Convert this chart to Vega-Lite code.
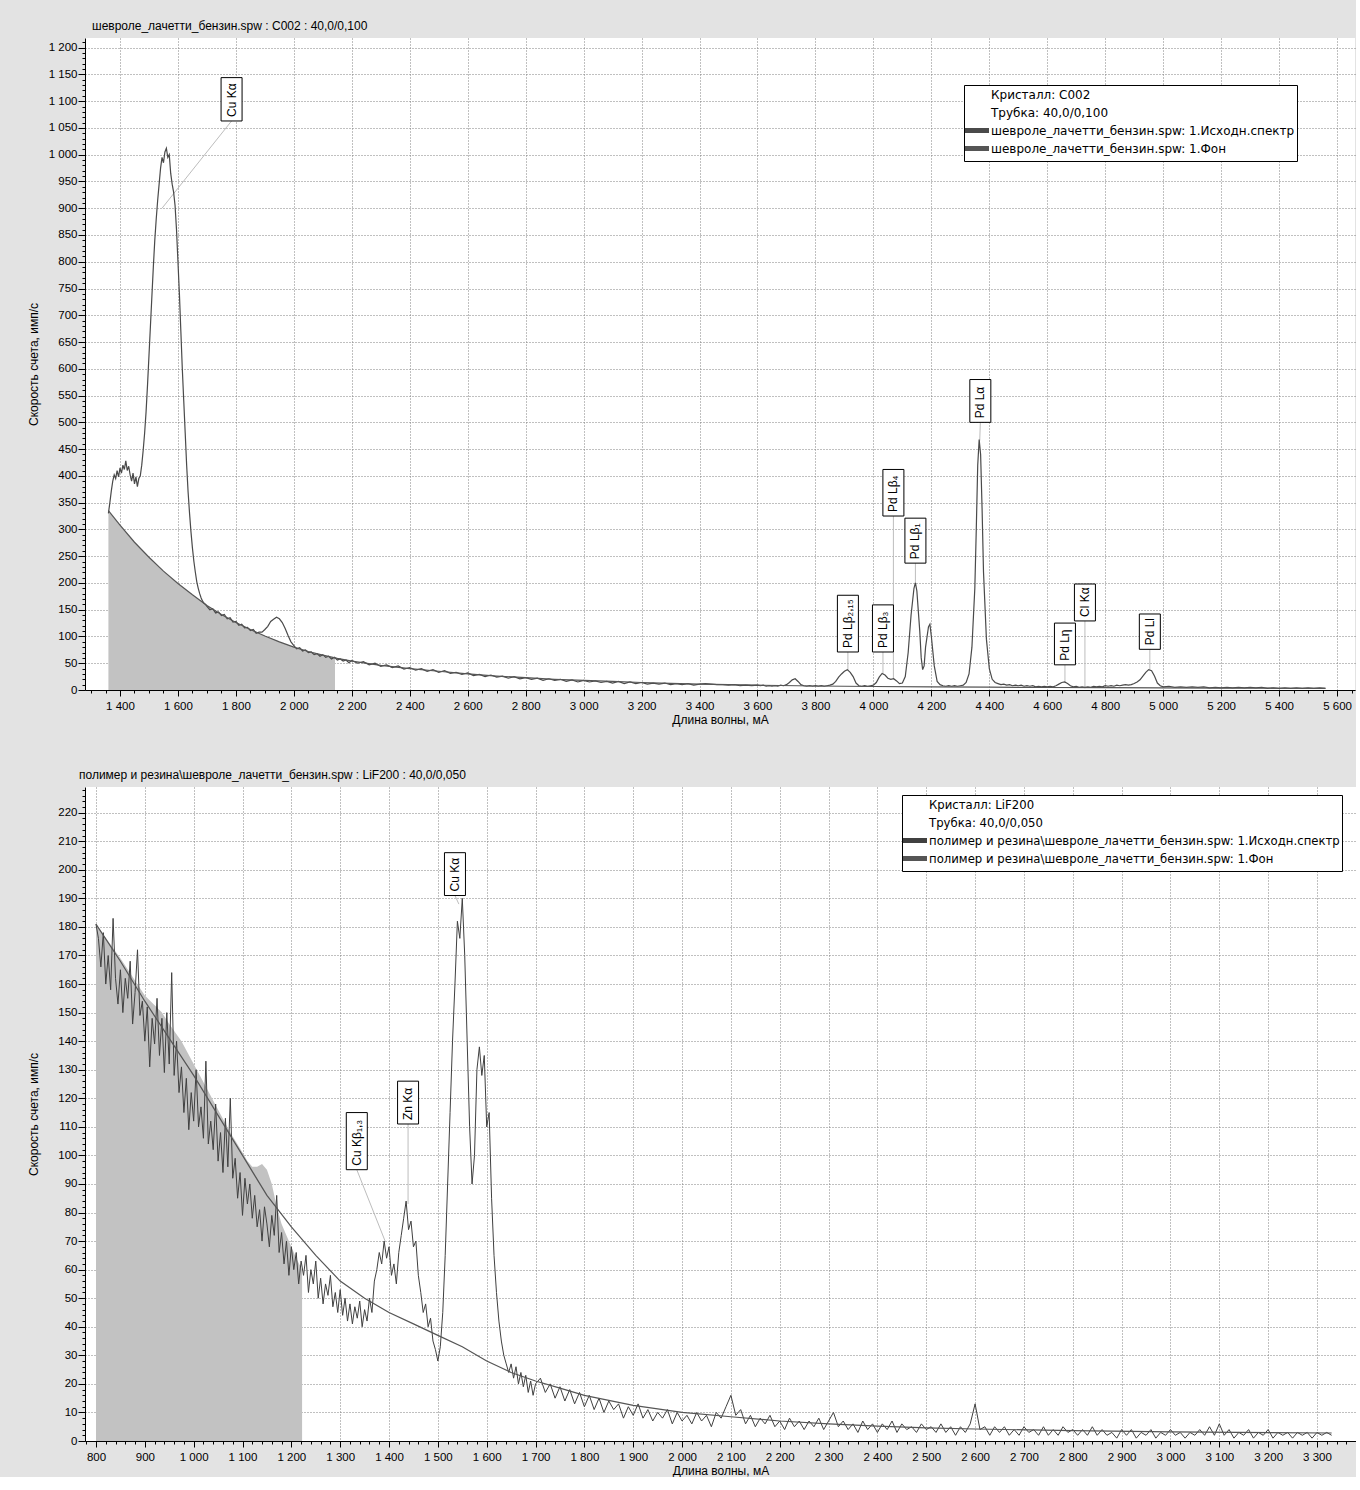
{
"$schema": "https://vega.github.io/schema/vega-lite/v6.json",
"padding": {"left": 27, "top": 20, "right": 0, "bottom": 0},
"background": "#e3e3e3",
"columns": 1,
"align": "none",
"spacing": 42,
"resolve": {"scale": {"color": "independent"}, "legend": {"color": "independent"}},
"datasets": {
"top_spec": [
{"w":1360,"c":330},{"w":1365,"c":350},{"w":1370,"c":372},{"w":1375,"c":390},{"w":1380,"c":402},{"w":1385,"c":395},{"w":1390,"c":410},{"w":1395,"c":398},{"w":1400,"c":415},{"w":1405,"c":405},{"w":1410,"c":420},{"w":1415,"c":412},{"w":1420,"c":428},{"w":1425,"c":410},{"w":1430,"c":418},{"w":1435,"c":402},{"w":1440,"c":390},{"w":1445,"c":405},{"w":1450,"c":385},{"w":1455,"c":398},{"w":1460,"c":380},{"w":1465,"c":395},{"w":1470,"c":400},{"w":1475,"c":420},{"w":1480,"c":448},{"w":1485,"c":480},{"w":1490,"c":520},{"w":1495,"c":570},{"w":1500,"c":625},{"w":1505,"c":680},{"w":1510,"c":735},{"w":1515,"c":790},{"w":1520,"c":840},{"w":1525,"c":880},{"w":1530,"c":915},{"w":1535,"c":945},{"w":1540,"c":975},{"w":1545,"c":995},{"w":1550,"c":985},{"w":1555,"c":1005},{"w":1560,"c":1012},{"w":1565,"c":995},{"w":1570,"c":1000},{"w":1575,"c":965},{"w":1580,"c":945},{"w":1585,"c":930},{"w":1590,"c":905},{"w":1595,"c":860},{"w":1600,"c":800},{"w":1605,"c":740},{"w":1610,"c":670},{"w":1615,"c":600},{"w":1620,"c":540},{"w":1625,"c":480},{"w":1630,"c":420},{"w":1635,"c":370},{"w":1640,"c":330},{"w":1645,"c":295},{"w":1650,"c":265},{"w":1655,"c":240},{"w":1660,"c":220},{"w":1665,"c":202},{"w":1670,"c":190},{"w":1675,"c":180},{"w":1680,"c":172},{"w":1685,"c":166},{"w":1690,"c":162},{"w":1695,"c":160},{"w":1700,"c":156},
{"w":1710,"c":150},{"w":1720,"c":152},{"w":1730,"c":144},{"w":1740,"c":146},{"w":1750,"c":139},{"w":1760,"c":141},{"w":1770,"c":133},{"w":1780,"c":135},{"w":1790,"c":127},{"w":1800,"c":128},{"w":1810,"c":121},{"w":1820,"c":123},{"w":1830,"c":116},{"w":1840,"c":117},{"w":1850,"c":111},{"w":1860,"c":113},{"w":1870,"c":106},{"w":1880,"c":108},{"w":1890,"c":108},{"w":1900,"c":113},{"w":1910,"c":119},{"w":1920,"c":128},{"w":1930,"c":132},{"w":1940,"c":136},{"w":1950,"c":133},{"w":1960,"c":126},{"w":1970,"c":115},{"w":1980,"c":102},{"w":1990,"c":90},{"w":2000,"c":83},{"w":2010,"c":77},{"w":2020,"c":79},{"w":2030,"c":73},{"w":2040,"c":75},{"w":2050,"c":70},{"w":2060,"c":71},{"w":2070,"c":66},{"w":2080,"c":68},{"w":2090,"c":63},{"w":2100,"c":66},{"w":2110,"c":61},{"w":2120,"c":63},{"w":2130,"c":58},{"w":2140,"c":61},{"w":2150,"c":56},{"w":2160,"c":58},{"w":2170,"c":54},{"w":2180,"c":56},{"w":2190,"c":51},{"w":2200,"c":55},
{"w":2220,"c":50},{"w":2240,"c":53},{"w":2260,"c":47},{"w":2280,"c":50},{"w":2300,"c":44},{"w":2320,"c":47},{"w":2340,"c":42},{"w":2360,"c":45},{"w":2380,"c":39},{"w":2400,"c":42},{"w":2420,"c":37},{"w":2440,"c":40},{"w":2460,"c":35},{"w":2480,"c":38},{"w":2500,"c":33},{"w":2520,"c":36},{"w":2540,"c":31},{"w":2560,"c":33},{"w":2580,"c":29},{"w":2600,"c":32},{"w":2620,"c":27},{"w":2640,"c":29},{"w":2660,"c":25},{"w":2680,"c":28},{"w":2700,"c":24},{"w":2720,"c":26},{"w":2740,"c":22},{"w":2760,"c":25},{"w":2780,"c":21},{"w":2800,"c":23},{"w":2820,"c":20},{"w":2840,"c":22},{"w":2860,"c":18},{"w":2880,"c":21},{"w":2900,"c":18},{"w":2920,"c":20},{"w":2940,"c":16},{"w":2960,"c":19},{"w":2980,"c":15},{"w":3000,"c":18},{"w":3020,"c":15},{"w":3040,"c":17},{"w":3060,"c":14},{"w":3080,"c":16},{"w":3100,"c":13},{"w":3120,"c":16},{"w":3140,"c":12},{"w":3160,"c":15},{"w":3180,"c":12},{"w":3200,"c":14},{"w":3220,"c":11},{"w":3240,"c":13},{"w":3260,"c":11},{"w":3280,"c":13},{"w":3300,"c":10},{"w":3320,"c":12},{"w":3340,"c":10},{"w":3360,"c":12},{"w":3380,"c":9},{"w":3400,"c":11},{"w":3420,"c":12},{"w":3440,"c":11},{"w":3460,"c":10},{"w":3480,"c":10},{"w":3500,"c":9},{"w":3520,"c":10},{"w":3540,"c":8},{"w":3560,"c":9},{"w":3580,"c":8},{"w":3600,"c":9},
{"w":3610,"c":8},{"w":3620,"c":9},{"w":3630,"c":7},{"w":3640,"c":8},{"w":3650,"c":7},{"w":3660,"c":8},{"w":3670,"c":7},{"w":3680,"c":9},{"w":3690,"c":8},{"w":3700,"c":10},{"w":3710,"c":14},{"w":3720,"c":19},{"w":3730,"c":21},{"w":3740,"c":16},{"w":3750,"c":10},{"w":3760,"c":8},{"w":3770,"c":7},{"w":3780,"c":8},{"w":3790,"c":7},{"w":3800,"c":8},{"w":3810,"c":7},{"w":3820,"c":8},{"w":3830,"c":7},{"w":3840,"c":8},{"w":3850,"c":9},{"w":3860,"c":11},{"w":3870,"c":16},{"w":3880,"c":24},{"w":3890,"c":30},{"w":3900,"c":35},{"w":3910,"c":38},{"w":3920,"c":33},{"w":3930,"c":25},{"w":3940,"c":13},{"w":3950,"c":8},{"w":3960,"c":7},{"w":3970,"c":8},{"w":3980,"c":7},{"w":3990,"c":8},{"w":4000,"c":9},{"w":4010,"c":14},{"w":4020,"c":24},{"w":4030,"c":31},{"w":4040,"c":28},{"w":4050,"c":22},{"w":4060,"c":20},{"w":4070,"c":21},{"w":4080,"c":17},{"w":4090,"c":12},{"w":4100,"c":13},{"w":4110,"c":25},{"w":4120,"c":70},{"w":4130,"c":140},{"w":4140,"c":190},{"w":4145,"c":200},{"w":4150,"c":185},{"w":4160,"c":110},{"w":4165,"c":60},{"w":4170,"c":38},{"w":4175,"c":45},{"w":4180,"c":80},{"w":4190,"c":118},{"w":4195,"c":123},{"w":4200,"c":100},{"w":4210,"c":45},{"w":4220,"c":16},{"w":4230,"c":10},{"w":4240,"c":8},{"w":4250,"c":7},{"w":4260,"c":8},{"w":4270,"c":7},{"w":4280,"c":8},{"w":4290,"c":7},{"w":4300,"c":8},{"w":4310,"c":9},{"w":4320,"c":14},{"w":4330,"c":30},{"w":4340,"c":80},{"w":4350,"c":190},{"w":4355,"c":300},{"w":4360,"c":420},{"w":4365,"c":468},{"w":4370,"c":440},{"w":4375,"c":340},{"w":4380,"c":220},{"w":4390,"c":95},{"w":4400,"c":40},{"w":4410,"c":20},{"w":4420,"c":14},{"w":4430,"c":12},{"w":4440,"c":10},{"w":4450,"c":11},{"w":4460,"c":9},{"w":4470,"c":10},{"w":4480,"c":8},{"w":4490,"c":9},{"w":4500,"c":8},{"w":4510,"c":9},{"w":4520,"c":7},{"w":4530,"c":8},{"w":4540,"c":7},{"w":4550,"c":8},{"w":4560,"c":6},{"w":4570,"c":7},{"w":4580,"c":6},{"w":4590,"c":7},{"w":4600,"c":6},{"w":4610,"c":7},{"w":4620,"c":6},{"w":4630,"c":8},{"w":4640,"c":11},{"w":4650,"c":14},{"w":4660,"c":15},{"w":4670,"c":12},{"w":4680,"c":8},{"w":4690,"c":6},{"w":4700,"c":7},{"w":4710,"c":5},{"w":4720,"c":6},{"w":4730,"c":5},{"w":4740,"c":6},{"w":4750,"c":5},{"w":4760,"c":7},{"w":4770,"c":6},{"w":4780,"c":7},{"w":4790,"c":6},{"w":4800,"c":8},{"w":4810,"c":7},{"w":4820,"c":8},{"w":4830,"c":7},{"w":4840,"c":9},{"w":4850,"c":8},{"w":4860,"c":9},{"w":4870,"c":10},{"w":4880,"c":9},{"w":4890,"c":10},{"w":4900,"c":12},{"w":4910,"c":15},{"w":4920,"c":19},{"w":4930,"c":26},{"w":4940,"c":33},{"w":4950,"c":38},{"w":4960,"c":36},{"w":4970,"c":26},{"w":4980,"c":13},{"w":4990,"c":8},{"w":5000,"c":6},{"w":5020,"c":7},{"w":5040,"c":5},{"w":5060,"c":6},{"w":5080,"c":5},{"w":5100,"c":6},{"w":5120,"c":5},{"w":5140,"c":6},{"w":5160,"c":4},{"w":5180,"c":5},{"w":5200,"c":4},{"w":5220,"c":5},{"w":5240,"c":4},{"w":5260,"c":5},{"w":5280,"c":4},{"w":5300,"c":5},{"w":5320,"c":4},{"w":5340,"c":5},{"w":5360,"c":3},{"w":5380,"c":4},{"w":5400,"c":3},{"w":5420,"c":4},{"w":5440,"c":3},{"w":5460,"c":4},{"w":5480,"c":3},{"w":5500,"c":4},{"w":5520,"c":3},{"w":5540,"c":4},{"w":5560,"c":3}
],
"top_bg": [
{"w":1360,"c":335},{"w":1400,"c":308},{"w":1450,"c":276},{"w":1500,"c":248},{"w":1550,"c":222},{"w":1600,"c":199},{"w":1650,"c":178},{"w":1700,"c":158},{"w":1750,"c":141},{"w":1800,"c":126},{"w":1850,"c":113},{"w":1900,"c":101},{"w":1950,"c":90},{"w":2000,"c":80},{"w":2050,"c":72},{"w":2100,"c":65},{"w":2150,"c":59},{"w":2200,"c":54},{"w":2300,"c":46},{"w":2400,"c":40},{"w":2500,"c":35},{"w":2600,"c":30},{"w":2700,"c":26},{"w":2800,"c":23},{"w":2900,"c":20},{"w":3000,"c":18},{"w":3100,"c":16},{"w":3200,"c":14},{"w":3300,"c":12.5},{"w":3400,"c":11},{"w":3500,"c":10},{"w":3600,"c":9},{"w":3800,"c":7.5},{"w":4000,"c":6.5},{"w":4200,"c":5.8},{"w":4400,"c":5.2},{"w":4600,"c":4.7},{"w":4800,"c":4.3},{"w":5000,"c":4},{"w":5200,"c":3.6},{"w":5400,"c":3.3},{"w":5560,"c":3.1}
],
"top_area": [
{"w":1360,"c":335},{"w":1400,"c":308},{"w":1450,"c":276},{"w":1500,"c":248},{"w":1550,"c":222},{"w":1600,"c":199},{"w":1650,"c":178},{"w":1700,"c":158},{"w":1750,"c":141},{"w":1800,"c":126},{"w":1850,"c":113},{"w":1900,"c":101},{"w":1950,"c":90},{"w":2000,"c":80},{"w":2050,"c":72},{"w":2100,"c":65},{"w":2142,"c":60}
],
"top_labels": [
{"t":"Cu Kα","lx":1785,"lb":1063,"lt":1144,"px":1545,"py":900},
{"t":"Pd Lβ₂,₁₅","lx":3912,"lb":71,"lt":177,"px":3912,"py":36},
{"t":"Pd Lβ₃","lx":4033,"lb":71,"lt":159,"px":4033,"py":31},
{"t":"Pd Lβ₄","lx":4069,"lb":325,"lt":412,"px":4069,"py":20},
{"t":"Pd Lβ₁","lx":4145,"lb":237,"lt":321,"px":4145,"py":198},
{"t":"Pd Lα","lx":4369,"lb":500,"lt":580,"px":4367,"py":466},
{"t":"Pd Lη","lx":4661,"lb":47,"lt":125,"px":4661,"py":14},
{"t":"Cl Kα","lx":4730,"lb":129,"lt":198,"px":4730,"py":3},
{"t":"Pd Ll","lx":4954,"lb":76,"lt":142,"px":4954,"py":38}
],
"bot_spec": [
{"w":800,"c":181},{"w":805,"c":176},{"w":810,"c":166},{"w":815,"c":178},{"w":820,"c":160},{"w":825,"c":170},{"w":830,"c":158},{"w":835,"c":183},{"w":840,"c":162},{"w":845,"c":153},{"w":850,"c":165},{"w":855,"c":150},{"w":860,"c":162},{"w":865,"c":155},{"w":870,"c":168},{"w":875,"c":146},{"w":880,"c":157},{"w":885,"c":172},{"w":890,"c":149},{"w":895,"c":154},{"w":900,"c":140},{"w":905,"c":152},{"w":910,"c":131},{"w":915,"c":148},{"w":920,"c":139},{"w":925,"c":155},{"w":930,"c":135},{"w":935,"c":148},{"w":940,"c":129},{"w":945,"c":150},{"w":950,"c":132},{"w":955,"c":164},{"w":960,"c":128},{"w":965,"c":140},{"w":970,"c":122},{"w":975,"c":131},{"w":980,"c":115},{"w":985,"c":127},{"w":990,"c":109},{"w":995,"c":122},{"w":1000,"c":112},{"w":1005,"c":130},{"w":1010,"c":110},{"w":1015,"c":117},{"w":1020,"c":106},{"w":1025,"c":133},{"w":1030,"c":104},{"w":1035,"c":112},{"w":1040,"c":102},{"w":1045,"c":118},{"w":1050,"c":98},{"w":1055,"c":108},{"w":1060,"c":94},{"w":1065,"c":113},{"w":1070,"c":96},{"w":1075,"c":120},{"w":1080,"c":92},{"w":1085,"c":99},{"w":1090,"c":85},{"w":1095,"c":94},{"w":1100,"c":79},{"w":1105,"c":92},{"w":1110,"c":83},{"w":1115,"c":90},{"w":1120,"c":78},{"w":1125,"c":86},{"w":1130,"c":75},{"w":1135,"c":81},{"w":1140,"c":70},{"w":1145,"c":82},{"w":1150,"c":76},{"w":1155,"c":68},{"w":1160,"c":79},{"w":1165,"c":72},{"w":1170,"c":86},{"w":1175,"c":66},{"w":1180,"c":73},{"w":1185,"c":62},{"w":1190,"c":70},{"w":1195,"c":58},{"w":1200,"c":68},{"w":1205,"c":60},{"w":1210,"c":66},{"w":1215,"c":55},{"w":1220,"c":63},{"w":1225,"c":58},{"w":1230,"c":65},{"w":1235,"c":52},{"w":1240,"c":60},{"w":1245,"c":55},{"w":1250,"c":63},{"w":1255,"c":50},{"w":1260,"c":57},{"w":1265,"c":48},{"w":1270,"c":55},{"w":1275,"c":51},{"w":1280,"c":58},{"w":1285,"c":47},{"w":1290,"c":52},{"w":1295,"c":45},{"w":1300,"c":53},{"w":1305,"c":44},{"w":1310,"c":50},{"w":1315,"c":42},{"w":1320,"c":48},{"w":1325,"c":41},{"w":1330,"c":47},{"w":1335,"c":43},{"w":1340,"c":49},{"w":1345,"c":40},{"w":1350,"c":46},{"w":1355,"c":42},{"w":1360,"c":50},{"w":1365,"c":45},{"w":1370,"c":56},{"w":1375,"c":60},{"w":1380,"c":66},{"w":1385,"c":62},{"w":1390,"c":70},{"w":1395,"c":64},{"w":1400,"c":68},{"w":1405,"c":58},{"w":1410,"c":62},{"w":1415,"c":55},{"w":1420,"c":66},{"w":1425,"c":72},{"w":1430,"c":78},{"w":1435,"c":84},{"w":1440,"c":74},{"w":1445,"c":77},{"w":1450,"c":68},{"w":1455,"c":70},{"w":1460,"c":58},{"w":1465,"c":52},{"w":1470,"c":45},{"w":1475,"c":48},{"w":1480,"c":40},{"w":1485,"c":43},{"w":1490,"c":35},{"w":1495,"c":32},{"w":1500,"c":28},{"w":1505,"c":33},{"w":1510,"c":45},{"w":1515,"c":65},{"w":1520,"c":90},{"w":1525,"c":115},{"w":1530,"c":140},{"w":1535,"c":160},{"w":1540,"c":182},{"w":1545,"c":176},{"w":1550,"c":190},{"w":1555,"c":170},{"w":1560,"c":140},{"w":1565,"c":110},{"w":1570,"c":90},{"w":1575,"c":100},{"w":1580,"c":130},{"w":1585,"c":138},{"w":1590,"c":128},{"w":1595,"c":135},{"w":1600,"c":110},{"w":1605,"c":115},{"w":1610,"c":85},{"w":1615,"c":65},{"w":1620,"c":52},{"w":1625,"c":42},{"w":1630,"c":35},{"w":1635,"c":30},{"w":1640,"c":27},{"w":1645,"c":24},{"w":1650,"c":27},{"w":1655,"c":22},{"w":1660,"c":26},{"w":1665,"c":20},{"w":1670,"c":24},{"w":1675,"c":19},{"w":1680,"c":23},{"w":1685,"c":17},{"w":1690,"c":21},{"w":1695,"c":16},{"w":1700,"c":20},
{"w":1710,"c":22},{"w":1720,"c":17},{"w":1730,"c":20},{"w":1740,"c":15},{"w":1750,"c":19},{"w":1760,"c":14},{"w":1770,"c":18},{"w":1780,"c":13},{"w":1790,"c":17},{"w":1800,"c":12},{"w":1810,"c":16},{"w":1820,"c":11},{"w":1830,"c":15},{"w":1840,"c":10},{"w":1850,"c":14},{"w":1860,"c":11},{"w":1870,"c":13},{"w":1880,"c":8},{"w":1890,"c":12},{"w":1900,"c":9},{"w":1910,"c":13},{"w":1920,"c":8},{"w":1930,"c":11},{"w":1940,"c":7},{"w":1950,"c":10},{"w":1960,"c":8},{"w":1970,"c":11},{"w":1980,"c":6},{"w":1990,"c":10},{"w":2000,"c":7},{"w":2010,"c":9},{"w":2020,"c":6},{"w":2030,"c":10},{"w":2040,"c":7},{"w":2050,"c":9},{"w":2060,"c":5},{"w":2070,"c":10},{"w":2080,"c":8},{"w":2090,"c":12},{"w":2100,"c":16},{"w":2110,"c":9},{"w":2120,"c":11},{"w":2130,"c":6},{"w":2140,"c":9},{"w":2150,"c":5},{"w":2160,"c":8},{"w":2170,"c":6},{"w":2180,"c":9},{"w":2190,"c":5},{"w":2200,"c":7},{"w":2210,"c":4},{"w":2220,"c":8},{"w":2230,"c":5},{"w":2240,"c":7},{"w":2250,"c":4},{"w":2260,"c":7},{"w":2270,"c":5},{"w":2280,"c":8},{"w":2290,"c":4},{"w":2300,"c":7},{"w":2310,"c":10},{"w":2320,"c":5},{"w":2330,"c":7},{"w":2340,"c":4},{"w":2350,"c":6},{"w":2360,"c":3},{"w":2370,"c":7},{"w":2380,"c":4},{"w":2390,"c":6},{"w":2400,"c":3},{"w":2410,"c":6},{"w":2420,"c":4},{"w":2430,"c":7},{"w":2440,"c":3},{"w":2450,"c":6},{"w":2460,"c":4},{"w":2470,"c":5},{"w":2480,"c":3},{"w":2490,"c":6},{"w":2500,"c":4},{"w":2510,"c":5},{"w":2520,"c":3},{"w":2530,"c":6},{"w":2540,"c":3},{"w":2550,"c":5},{"w":2560,"c":2},{"w":2570,"c":5},{"w":2580,"c":3},{"w":2590,"c":6},{"w":2600,"c":13},{"w":2610,"c":4},{"w":2620,"c":5},{"w":2630,"c":2},{"w":2640,"c":5},{"w":2650,"c":3},{"w":2660,"c":5},{"w":2670,"c":2},{"w":2680,"c":4},{"w":2690,"c":2},{"w":2700,"c":5},{"w":2710,"c":3},{"w":2720,"c":4},{"w":2730,"c":2},{"w":2740,"c":5},{"w":2750,"c":2},{"w":2760,"c":4},{"w":2770,"c":2},{"w":2780,"c":5},{"w":2790,"c":3},{"w":2800,"c":4},{"w":2810,"c":2},{"w":2820,"c":4},{"w":2830,"c":2},{"w":2840,"c":5},{"w":2850,"c":2},{"w":2860,"c":4},{"w":2870,"c":2},{"w":2880,"c":3},{"w":2890,"c":1},{"w":2900,"c":4},{"w":2910,"c":2},{"w":2920,"c":4},{"w":2930,"c":1},{"w":2940,"c":3},{"w":2950,"c":2},{"w":2960,"c":4},{"w":2970,"c":1},{"w":2980,"c":3},{"w":2990,"c":2},{"w":3000,"c":4},{"w":3010,"c":2},{"w":3020,"c":3},{"w":3030,"c":1},{"w":3040,"c":3},{"w":3050,"c":2},{"w":3060,"c":4},{"w":3070,"c":2},{"w":3080,"c":5},{"w":3090,"c":2},{"w":3100,"c":6},{"w":3110,"c":2},{"w":3120,"c":4},{"w":3130,"c":1},{"w":3140,"c":3},{"w":3150,"c":2},{"w":3160,"c":4},{"w":3170,"c":1},{"w":3180,"c":3},{"w":3190,"c":2},{"w":3200,"c":4},{"w":3210,"c":1},{"w":3220,"c":3},{"w":3230,"c":2},{"w":3240,"c":3},{"w":3250,"c":1},{"w":3260,"c":3},{"w":3270,"c":2},{"w":3280,"c":3},{"w":3290,"c":1},{"w":3300,"c":3},{"w":3310,"c":2},{"w":3320,"c":3},{"w":3330,"c":2}
],
"bot_bg": [
{"w":800,"c":181},{"w":850,"c":168},{"w":900,"c":154},{"w":950,"c":141},{"w":1000,"c":128},{"w":1050,"c":114},{"w":1100,"c":100},{"w":1150,"c":86},{"w":1200,"c":75},{"w":1250,"c":65},{"w":1300,"c":56},{"w":1350,"c":50},{"w":1400,"c":45},{"w":1450,"c":41},{"w":1500,"c":37},{"w":1550,"c":33},{"w":1600,"c":28},{"w":1650,"c":24},{"w":1700,"c":21},{"w":1750,"c":18.5},{"w":1800,"c":16},{"w":1900,"c":12.5},{"w":2000,"c":10},{"w":2100,"c":8.5},{"w":2200,"c":7},{"w":2300,"c":6},{"w":2400,"c":5.2},{"w":2500,"c":4.6},{"w":2600,"c":4.2},{"w":2800,"c":3.6},{"w":3000,"c":3.2},{"w":3330,"c":2.8}
],
"bot_area": [
{"w":800,"c":181},{"w":850,"c":169},{"w":900,"c":156},{"w":935,"c":150},{"w":950,"c":146},{"w":975,"c":140},{"w":1000,"c":132},{"w":1025,"c":124},{"w":1050,"c":116},{"w":1075,"c":108},{"w":1100,"c":101},{"w":1110,"c":98},{"w":1120,"c":96},{"w":1130,"c":96},{"w":1140,"c":97},{"w":1150,"c":95},{"w":1160,"c":90},{"w":1170,"c":82},{"w":1180,"c":76},{"w":1190,"c":72},{"w":1200,"c":68},{"w":1210,"c":64},{"w":1222,"c":60}
],
"bot_labels": [
{"t":"Cu Kβ₁,₃","lx":1334,"lb":95,"lt":115,"px":1392,"py":70},
{"t":"Zn Kα","lx":1439,"lb":111,"lt":126,"px":1439,"py":83},
{"t":"Cu Kα","lx":1535,"lb":191,"lt":206,"px":1543,"py":188}
]
},
"concat": [
{
"width": 1270,
"height": 652,
"title": {"text": "шевроле_лачетти_бензин.spw : C002 : 40,0/0,100", "dx": 7, "offset": 3},
"layer": [
{
"data": {"name": "top_area"},
"mark": {"type": "area", "color": "#c2c2c2"},
"encoding": {
"x": {"field": "w", "type": "quantitative", "title": "Длина волны, мА",
"scale": {"domain": [1279.2, 5662], "nice": false, "zero": false, "padding": 0},
"axis": {"tickCount": 88, "format": ",d", "labelExpr": "datum.value % 200 === 0 ? datum.label : ''",
"tickSize": {"condition": {"test": "datum.value % 200 === 0", "value": 6}, "value": 3},
"gridOpacity": {"condition": {"test": "datum.value % 200 === 0", "value": 1}, "value": 0},
"labelOverlap": false, "labelFlush": false, "labelPadding": 4, "titlePadding": 3}},
"y": {"field": "c", "type": "quantitative", "title": "Скорость счета, имп/с",
"scale": {"domain": [0, 1218], "nice": false, "padding": 0},
"axis": {"tickCount": 122, "format": ",d", "labelExpr": "datum.value % 50 === 0 ? datum.label : ''",
"tickSize": {"condition": {"test": "datum.value % 50 === 0", "value": 7}, "value": 3},
"gridOpacity": {"condition": {"test": "datum.value % 50 === 0", "value": 1}, "value": 0},
"labelOverlap": false, "labelFlush": false, "labelPadding": 1, "titlePadding": 8.2}}
}
},
{
"data": {"name": "top_labels"},
"mark": {"type": "rule", "color": "#bdbdbd", "strokeWidth": 1},
"encoding": {
"x": {"field": "lx", "type": "quantitative", "title": "Длина волны, мА"},
"y": {"field": "lb", "type": "quantitative", "title": "Скорость счета, имп/с"},
"x2": {"field": "px"},
"y2": {"field": "py"}
}
},
{
"data": {"name": "top_spec"},
"mark": {"type": "line", "strokeWidth": 1.2},
"encoding": {
"x": {"field": "w", "type": "quantitative", "title": "Длина волны, мА"},
"y": {"field": "c", "type": "quantitative", "title": "Скорость счета, имп/с"},
"color": {"datum": "шевроле_лачетти_бензин.spw: 1.Исходн.спектр", "type": "nominal",
"scale": {"domain": ["Кристалл: C002", "Трубка: 40,0/0,100", "шевроле_лачетти_бензин.spw: 1.Исходн.спектр", "шевроле_лачетти_бензин.spw: 1.Фон"], "range": ["transparent", "transparent", "#4a4a4a", "#555555"]},
"legend": {"orient": "none", "legendX": 879, "legendY": 47, "title": null}}
}
},
{
"data": {"name": "top_bg"},
"mark": {"type": "line", "strokeWidth": 1.2},
"encoding": {
"x": {"field": "w", "type": "quantitative", "title": "Длина волны, мА"},
"y": {"field": "c", "type": "quantitative", "title": "Скорость счета, имп/с"},
"color": {"datum": "шевроле_лачетти_бензин.spw: 1.Фон", "type": "nominal"}
}
},
{
"data": {"name": "top_labels"},
"mark": {"type": "bar", "width": 21, "fill": "white", "stroke": "black", "strokeWidth": 1},
"encoding": {
"x": {"field": "lx", "type": "quantitative", "title": "Длина волны, мА"},
"y": {"field": "lb", "type": "quantitative", "title": "Скорость счета, имп/с"},
"y2": {"field": "lt"}
}
},
{
"data": {"name": "top_labels"},
"mark": {"type": "text", "angle": 270, "align": "left", "baseline": "middle", "dx": 4, "font": "Liberation Sans, sans-serif", "fontSize": 12, "color": "black"},
"encoding": {
"x": {"field": "lx", "type": "quantitative", "title": "Длина волны, мА"},
"y": {"field": "lb", "type": "quantitative", "title": "Скорость счета, имп/с"},
"text": {"field": "t"}
}
}
]
},
{
"width": 1271,
"height": 654,
"title": {"text": "полимер и резина\\шевроле_лачетти_бензин.spw : LiF200 : 40,0/0,050", "dx": -6, "offset": 2},
"layer": [
{
"data": {"name": "bot_area"},
"mark": {"type": "area", "color": "#c2c2c2"},
"encoding": {
"x": {"field": "w", "type": "quantitative", "title": "Длина волны, мА",
"scale": {"domain": [777.5, 3379.9], "nice": false, "zero": false, "padding": 0},
"axis": {"tickCount": 130, "format": ",d", "labelExpr": "datum.value % 100 === 0 ? datum.label : ''",
"tickSize": {"condition": {"test": "datum.value % 100 === 0", "value": 6}, "value": 3},
"gridOpacity": {"condition": {"test": "datum.value % 100 === 0", "value": 1}, "value": 0},
"labelOverlap": false, "labelFlush": false, "labelPadding": 4, "titlePadding": 3}},
"y": {"field": "c", "type": "quantitative", "title": "Скорость счета, имп/с",
"scale": {"domain": [0, 229], "nice": false, "padding": 0},
"axis": {"tickCount": 115, "format": ",d", "labelExpr": "datum.value % 10 === 0 ? datum.label : ''",
"tickSize": {"condition": {"test": "datum.value % 10 === 0", "value": 7}, "value": 3},
"gridOpacity": {"condition": {"test": "datum.value % 10 === 0", "value": 1}, "value": 0},
"labelOverlap": false, "labelFlush": false, "labelPadding": 1, "titlePadding": 17.7}}
}
},
{
"data": {"name": "bot_labels"},
"mark": {"type": "rule", "color": "#bdbdbd", "strokeWidth": 1},
"encoding": {
"x": {"field": "lx", "type": "quantitative", "title": "Длина волны, мА"},
"y": {"field": "lb", "type": "quantitative", "title": "Скорость счета, имп/с"},
"x2": {"field": "px"},
"y2": {"field": "py"}
}
},
{
"data": {"name": "bot_spec"},
"mark": {"type": "line", "strokeWidth": 1},
"encoding": {
"x": {"field": "w", "type": "quantitative", "title": "Длина волны, мА"},
"y": {"field": "c", "type": "quantitative", "title": "Скорость счета, имп/с"},
"color": {"datum": "полимер и резина\\шевроле_лачетти_бензин.spw: 1.Исходн.спектр", "type": "nominal",
"scale": {"domain": ["Кристалл: LiF200", "Трубка: 40,0/0,050", "полимер и резина\\шевроле_лачетти_бензин.spw: 1.Исходн.спектр", "полимер и резина\\шевроле_лачетти_бензин.spw: 1.Фон"], "range": ["transparent", "transparent", "#404040", "#555555"]},
"legend": {"orient": "none", "legendX": 817, "legendY": 8, "title": null, "labelFontSize": 11.7}}
}
},
{
"data": {"name": "bot_bg"},
"mark": {"type": "line", "strokeWidth": 1.2},
"encoding": {
"x": {"field": "w", "type": "quantitative", "title": "Длина волны, мА"},
"y": {"field": "c", "type": "quantitative", "title": "Скорость счета, имп/с"},
"color": {"datum": "полимер и резина\\шевроле_лачетти_бензин.spw: 1.Фон", "type": "nominal"}
}
},
{
"data": {"name": "bot_labels"},
"mark": {"type": "bar", "width": 21, "fill": "white", "stroke": "black", "strokeWidth": 1},
"encoding": {
"x": {"field": "lx", "type": "quantitative", "title": "Длина волны, мА"},
"y": {"field": "lb", "type": "quantitative", "title": "Скорость счета, имп/с"},
"y2": {"field": "lt"}
}
},
{
"data": {"name": "bot_labels"},
"mark": {"type": "text", "angle": 270, "align": "left", "baseline": "middle", "dx": 4, "font": "Liberation Sans, sans-serif", "fontSize": 12, "color": "black"},
"encoding": {
"x": {"field": "lx", "type": "quantitative", "title": "Длина волны, мА"},
"y": {"field": "lb", "type": "quantitative", "title": "Скорость счета, имп/с"},
"text": {"field": "t"}
}
}
]
}
],
"config": {
"locale": {"number": {"decimal": ",", "thousands": " ", "grouping": [3], "currency": ["", ""]}},
"view": {"stroke": null, "fill": "white"},
"axis": {"labelFont": "Liberation Sans, sans-serif", "labelFontSize": 11.5, "labelColor": "black",
"titleFont": "Liberation Sans, sans-serif", "titleFontSize": 12, "titleFontWeight": "normal", "titleColor": "black",
"domainColor": "black", "tickColor": "black", "gridColor": "#808080", "gridDash": [1, 2]},
"title": {"font": "Liberation Sans, sans-serif", "fontSize": 12, "fontWeight": "normal", "color": "black", "anchor": "start", "frame": "group"},
"legend": {"fillColor": "white", "strokeColor": "black", "padding": 2, "rowPadding": -7,
"labelFont": "DejaVu Sans, sans-serif", "labelFontSize": 12, "labelColor": "black", "labelLimit": 0, "labelOffset": 10,
"symbolType": "M-1.7,0H3.1", "symbolStrokeWidth": 5, "symbolSize": 100}
}
}
